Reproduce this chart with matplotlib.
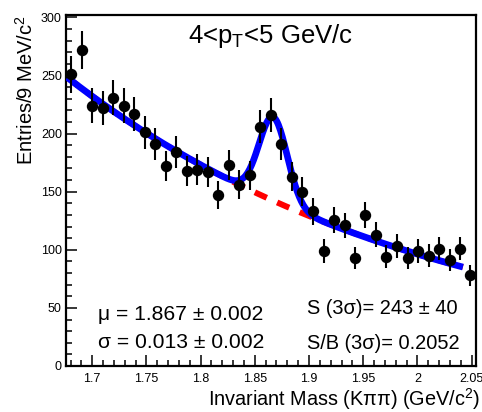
import numpy as np
import matplotlib
matplotlib.use("Agg")
import matplotlib.pyplot as plt
from matplotlib.ticker import MultipleLocator, FixedLocator

plt.rcParams['font.family'] = ['Liberation Sans', 'DejaVu Sans']
plt.rcParams['mathtext.fontset'] = 'custom'
plt.rcParams['mathtext.rm'] = 'Liberation Sans'
plt.rcParams['mathtext.it'] = 'Liberation Sans'

# ---- data ----
mass = [1.6808, 1.6905, 1.7002, 1.7099, 1.7196, 1.7292, 1.7389, 1.7486, 1.7583,
        1.7680, 1.7777, 1.7874, 1.7971, 1.8068, 1.8165, 1.8262, 1.8358, 1.8455,
        1.8552, 1.8649, 1.8746, 1.8843, 1.8940, 1.9037, 1.9134, 1.9231, 1.9328,
        1.9424, 1.9521, 1.9618, 1.9715, 1.9812, 1.9909, 2.0006, 2.0103, 2.0200,
        2.0297, 2.0394, 2.0490]
counts = [251, 272, 224, 222, 231, 224, 217, 201, 191, 172, 184, 168, 169, 167,
          147, 173, 156, 164, 206, 216, 191, 163, 150, 133, 99, 126, 121, 93,
          130, 113, 94, 103, 93, 99, 95, 101, 91, 101, 78]

# fit parameters
bkg_norm = 249.0      # background at x = 1.676
bkg_slope = -2.933    # exponential slope (1/GeV)
bkg_x0 = 1.676
sig_amp = 72.0
sig_mu = 1.867
sig_sigma = 0.013
fit_range = (1.677, 2.042)

x_ticks = [1.7, 1.75, 1.8, 1.85, 1.9, 1.95, 2.0, 2.05]
x_ticklabels = ["1.7", "1.75", "1.8", "1.85", "1.9", "1.95", "2", "2.05"]
y_ticks = [0, 50, 100, 150, 200, 250, 300]

W, H = 482, 412
fig = plt.figure(figsize=(W / 100, H / 100), dpi=100)
ax = fig.add_axes([66 / W, 1 - 366 / H, (475.7 - 66) / W, (366 - 15) / H])

xs = np.linspace(fit_range[0], fit_range[1], 400)
bkg = bkg_norm * np.exp(bkg_slope * (xs - bkg_x0))
tot = bkg + sig_amp * np.exp(-0.5 * ((xs - sig_mu) / sig_sigma) ** 2)

ax.plot(xs, bkg, color='#ff0000', lw=4.3, dashes=(2.2, 1.9), zorder=2)
ax.plot(xs, tot, color='#0000ff', lw=4.8, zorder=3, solid_capstyle='butt')

cnt = np.array(counts, dtype=float)
ax.errorbar(mass, cnt, yerr=np.sqrt(cnt), fmt='o', color='black', ms=7.2,
            elinewidth=1.5, capsize=0, zorder=4)

ax.set_xlim(1.6758, 2.0538)
ax.set_ylim(0, 302)
ax.xaxis.set_major_locator(FixedLocator(x_ticks))
ax.set_xticklabels(x_ticklabels)
ax.xaxis.set_minor_locator(MultipleLocator(0.01))
ax.yaxis.set_major_locator(FixedLocator(y_ticks))
ax.yaxis.set_minor_locator(MultipleLocator(10))
ax.tick_params(which='both', direction='in', top=False, right=False,
               labelsize=9, width=1.1)
ax.tick_params(which='major', length=7.9)
ax.tick_params(which='minor', length=4.0)
ax.tick_params(axis='x', pad=5)
ax.tick_params(axis='y', pad=3)
for s in ax.spines.values():
    s.set_linewidth(1.6)

def ftext(x, y, s, size, ha='left', **kw):
    fig.text(x / W, 1 - y / H, s, fontsize=size, ha=ha, va='baseline', **kw)

ftext(188, 43, r"4<p$_{\mathrm{T}}$<5 GeV/c", 18.5)
ftext(98, 320, "μ = 1.867 ± 0.002", 15.2)
ftext(98, 348, "σ = 0.013 ± 0.002", 15.2)
ftext(307, 314, "S (3σ)= 243 ± 40", 14.4)
ftext(307, 349, "S/B (3σ)= 0.2052", 14.4)
ftext(480, 406, r"Invariant Mass (Kππ) (GeV/c$^{2}$)", 14.3, ha='right')
fig.text(33 / W, 1 - 15 / H, r"Entries/9 MeV/c$^{2}$", fontsize=14.5,
         rotation=90, ha='right', va='baseline', rotation_mode='anchor')

fig.savefig("out.png", dpi=100)
